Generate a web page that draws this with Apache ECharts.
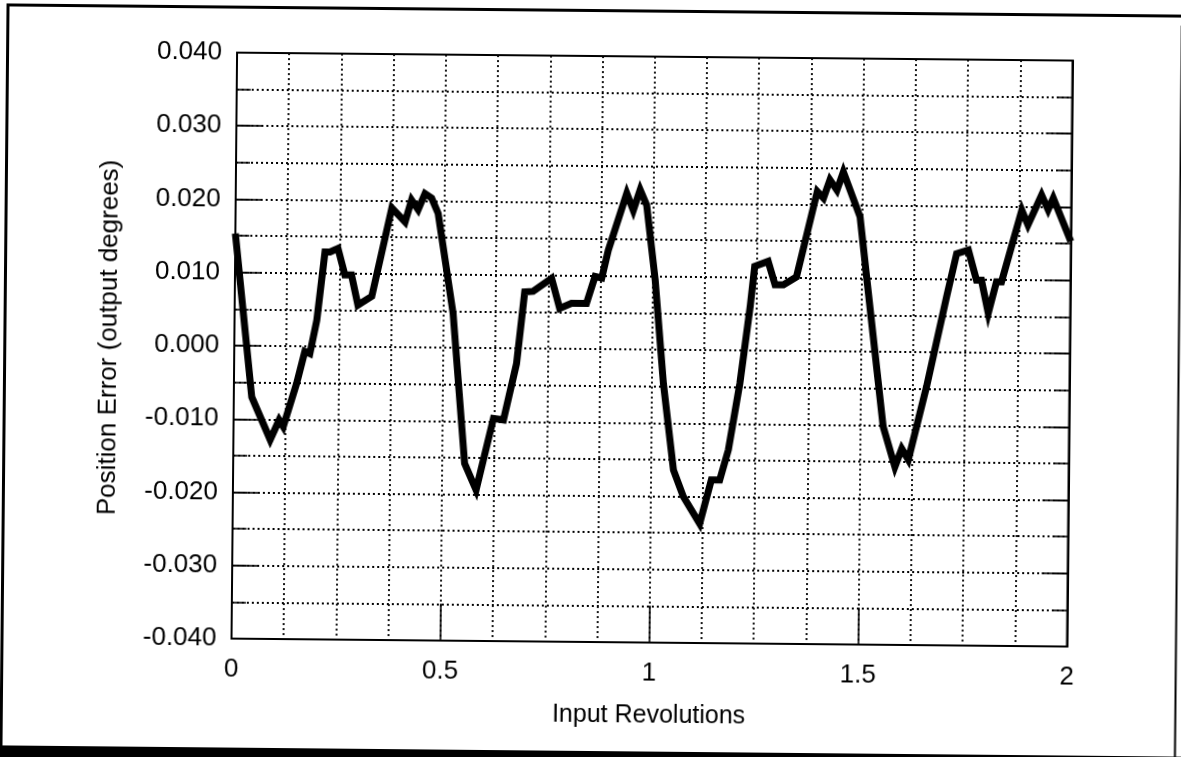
<!DOCTYPE html>
<html>
<head>
<meta charset="utf-8">
<script src="https://cdn.jsdelivr.net/npm/echarts@6/dist/echarts.min.js"></script>
<style>
html,body{margin:0;padding:0;background:#fff;overflow:hidden;width:1181px;height:757px;}
#chart{position:absolute;left:-20px;top:-20px;width:1221px;height:797px;transform:rotate(0.545deg);transform-origin:50% 50%;}
</style>
</head>
<body>
<div id="chart"></div>
<script>
// Input revolutions (x) and position error in output degrees (y)
var revolutions = [0, 0.043, 0.088, 0.109, 0.119, 0.150, 0.169, 0.181, 0.197, 0.215,
  0.227, 0.246, 0.263, 0.279, 0.295, 0.328, 0.374, 0.406, 0.421, 0.437,
  0.453, 0.469, 0.485, 0.523, 0.554, 0.582, 0.622, 0.646, 0.676, 0.694,
  0.714, 0.758, 0.778, 0.806, 0.842, 0.862, 0.878, 0.893, 0.936, 0.952,
  0.968, 0.984, 1.006, 1.028, 1.054, 1.078, 1.118, 1.145, 1.165, 1.185,
  1.211, 1.234, 1.244, 1.276, 1.293, 1.313, 1.344, 1.392, 1.407, 1.422,
  1.439, 1.454, 1.495, 1.512, 1.555, 1.584, 1.600, 1.616, 1.658, 1.704,
  1.727, 1.755, 1.775, 1.787, 1.804, 1.823, 1.835, 1.882, 1.897, 1.929,
  1.945, 1.957, 2.0];
var positionError = [0.0153, -0.0070, -0.0128, -0.0101, -0.0110, -0.0051, -0.0007, -0.0010, 0.0036, 0.0129,
  0.0129, 0.0134, 0.0098, 0.0098, 0.0057, 0.0069, 0.0190, 0.0171, 0.0201, 0.0188,
  0.0210, 0.0204, 0.0183, 0.0047, -0.0158, -0.0194, -0.0096, -0.0098, -0.0021, 0.0077,
  0.0078, 0.0096, 0.0055, 0.0062, 0.0062, 0.0099, 0.0097, 0.0135, 0.0213, 0.0190,
  0.0218, 0.0197, 0.0095, -0.0046, -0.0164, -0.0200, -0.0237, -0.0177, -0.0177, -0.0136,
  -0.0045, 0.0060, 0.0115, 0.0122, 0.0090, 0.0090, 0.0101, 0.0218, 0.0209, 0.0234,
  0.0220, 0.0245, 0.0184, 0.0102, -0.0102, -0.0157, -0.0132, -0.0147, -0.0047, 0.0076,
  0.0135, 0.0140, 0.0099, 0.0099, 0.0054, 0.0097, 0.0097, 0.0195, 0.0175, 0.0216,
  0.0196, 0.0212, 0.0153];
var xTitle = 'Input Revolutions';
var yTitle = 'Position Error (output degrees)';
var xMin = 0, xMax = 2, xGridStep = 0.125, xLabelStep = 0.5;
var yMin = -0.04, yMax = 0.04, yGridStep = 0.005, yLabelStep = 0.01;

var seriesData = revolutions.map(function (x, i) { return [x, positionError[i]]; });

var FONT = 'Arial, "Liberation Sans", Helvetica, sans-serif';
var dotted = { color: '#000', width: 1.8, type: [2, 3] };
var solidAxis = { show: true, onZero: false, lineStyle: { color: '#000', width: 2 } };

var chart = echarts.init(document.getElementById('chart'), null, { renderer: 'canvas' });
chart.setOption({
  animation: false,
  backgroundColor: '#fff',
  grid: { left: 254, top: 76, right: 131.5, bottom: 135, show: true, borderColor: '#000', borderWidth: 2, backgroundColor: 'transparent' },
  xAxis: [
    { type: 'value', min: xMin, max: xMax, interval: xGridStep, position: 'bottom',
      axisLine: { show: false, onZero: false }, axisTick: { show: false }, axisLabel: { show: false },
      splitLine: { show: true, lineStyle: dotted } },
    { type: 'value', min: xMin, max: xMax, interval: xLabelStep, position: 'bottom',
      name: xTitle, nameLocation: 'middle', nameGap: 61,
      nameTextStyle: { fontFamily: FONT, fontSize: 25, color: '#000' },
      axisLine: solidAxis,
      axisTick: { show: true, inside: true, length: 37, lineStyle: { color: '#000', width: 1.6 } },
      axisLabel: { show: true, margin: 18, fontFamily: FONT, fontSize: 26, color: '#000' },
      splitLine: { show: false } }
  ],
  yAxis: [
    { type: 'value', min: yMin, max: yMax, interval: yGridStep, position: 'left',
      axisLine: solidAxis,
      axisTick: { show: true, inside: true, length: 14, lineStyle: { color: '#000', width: 1.6 } },
      axisLabel: { show: false },
      splitLine: { show: true, lineStyle: dotted } },
    { type: 'value', min: yMin, max: yMax, interval: yLabelStep, position: 'left',
      name: yTitle, nameLocation: 'middle', nameGap: 112, nameRotate: 90,
      nameTextStyle: { fontFamily: FONT, fontSize: 26, color: '#000', padding: [0, 0, 0, 14] },
      axisLine: { show: false, onZero: false },
      axisTick: { show: true, inside: true, length: 26, lineStyle: { color: '#000', width: 1.6 } },
      axisLabel: { show: true, margin: 15, fontFamily: FONT, fontSize: 26, color: '#000',
        formatter: function (v) { return (Math.round(v * 1000) / 1000).toFixed(3); } },
      splitLine: { show: false } },
    { type: 'value', min: yMin, max: yMax, interval: yGridStep, position: 'right',
      axisLine: solidAxis,
      axisTick: { show: true, inside: true, length: 14, lineStyle: { color: '#000', width: 1.6 } },
      axisLabel: { show: false }, splitLine: { show: false } },
    { type: 'value', min: yMin, max: yMax, interval: yLabelStep, position: 'right',
      axisLine: { show: false, onZero: false },
      axisTick: { show: true, inside: true, length: 26, lineStyle: { color: '#000', width: 1.6 } },
      axisLabel: { show: false }, splitLine: { show: false } }
  ],
  series: [{
    type: 'line', xAxisIndex: 0, yAxisIndex: 0, data: seriesData,
    showSymbol: false, symbol: 'none', smooth: false,
    lineStyle: { color: '#000', width: 7, join: 'miter', cap: 'butt' },
    z: 5
  }],
  graphic: [
    { type: 'rect', shape: { x: 23, y: 29, width: 1200, height: 3 }, style: { fill: '#000' }, silent: true },
    { type: 'rect', shape: { x: 23, y: 29, width: 3, height: 745 }, style: { fill: '#000' }, silent: true },
    { type: 'rect', shape: { x: 1197.5, y: 40, width: 2, height: 735 }, style: { fill: '#000' }, silent: true },
    { type: 'rect', shape: { x: 0, y: 771, width: 1221, height: 30 }, style: { fill: '#000' }, silent: true }
  ]
});
</script>
</body>
</html>
